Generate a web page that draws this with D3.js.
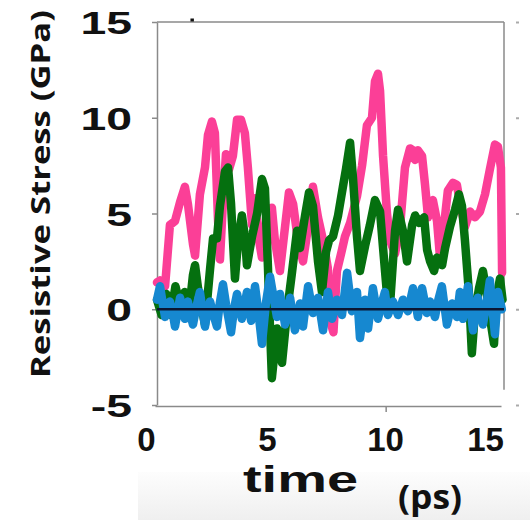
<!DOCTYPE html>
<html>
<head>
<meta charset="utf-8">
<script src="https://cdn.jsdelivr.net/npm/d3@7"></script>
<style>
  body { margin: 0; background: #ffffff; }
</style>
</head>
<body>
<script>
// tick values
var timeTicks = [0, 5, 10, 15];
var stressTicks = [-5, 0, 5, 10, 15];

// [time (ps), stress (GPa)]
var pinkData = [
  [0.0, 1.4], [0.13, 1.5], [0.35, 1.2], [0.56, 4.4], [0.78, 4.6], [1.0, 5.6],
  [1.21, 6.4], [1.34, 5.5], [1.56, 3.4], [1.65, 2.8], [1.86, 6.0], [2.08, 7.4],
  [2.21, 9.1], [2.38, 9.8], [2.51, 9.2], [2.64, 4.8], [2.73, 2.6], [2.86, 5.6],
  [2.99, 8.1], [3.12, 7.3], [3.29, 8.0], [3.47, 9.9], [3.64, 9.9], [3.81, 9.2],
  [3.94, 7.4], [4.12, 4.4], [4.25, 5.8], [4.38, 3.9], [4.55, 2.7], [4.77, 5.2],
  [4.98, 5.3], [5.11, 3.6], [5.33, 2.0], [5.55, 4.3], [5.72, 6.1], [5.90, 5.5],
  [6.11, 3.6], [6.33, 2.5], [6.55, 4.3], [6.76, 6.4], [6.98, 4.8], [7.20, 3.6],
  [7.40, 2.2], [7.55, -0.8], [7.65, -1.2], [7.80, 2.0], [8.0, 3.0], [8.15, 3.8],
  [8.37, 4.5], [8.67, 5.9], [8.89, 7.5], [9.10, 9.6], [9.32, 10.0], [9.45, 11.9],
  [9.58, 12.3], [9.67, 11.4], [9.80, 8.0], [9.97, 5.0], [10.10, 3.6], [10.32, 2.9],
  [10.53, 4.2], [10.75, 7.4], [10.97, 8.4], [11.10, 8.3], [11.19, 7.8], [11.31, 8.3],
  [11.49, 8.0], [11.62, 6.5], [11.75, 4.8], [11.96, 5.7], [12.14, 4.6], [12.27, 2.7],
  [12.40, 3.9], [12.61, 6.2], [12.83, 6.6], [13.0, 6.5], [13.13, 5.6], [13.35, 4.3],
  [13.57, 5.1], [13.78, 4.8], [14.0, 5.1], [14.22, 6.0], [14.43, 7.3], [14.65, 8.6],
  [14.78, 8.5], [14.91, 7.4], [14.96, 1.9]
];

var greenData = [
  [0.0, 0.5], [0.2, -0.3], [0.4, 0.8], [0.6, -0.3], [0.8, 1.2], [1.0, 0.2],
  [1.2, 0.9], [1.4, 0.0], [1.56, 1.8], [1.65, 2.3], [1.78, 1.1], [2.08, -0.8],
  [2.30, 2.1], [2.43, 3.7], [2.60, 3.7], [2.73, 5.4], [2.95, 7.2], [3.08, 7.4],
  [3.21, 5.5], [3.38, 1.6], [3.51, 3.5], [3.68, 4.9], [3.81, 3.8], [3.90, 2.3],
  [4.12, 3.8], [4.34, 5.0], [4.55, 6.8], [4.68, 6.3], [4.81, 2.2], [4.90, -1.0],
  [4.98, -3.6], [5.20, -1.0], [5.42, -2.8], [5.64, -0.1], [5.85, 1.9], [6.07, 4.1],
  [6.20, 3.2], [6.42, 4.9], [6.59, 6.1], [6.76, 5.4], [6.98, 2.5], [7.15, 0.9],
  [7.33, 3.0], [7.46, 3.6], [7.63, 3.8], [7.85, 4.9], [8.06, 6.4], [8.19, 7.3],
  [8.37, 8.7], [8.50, 6.8], [8.67, 3.8], [8.80, 2.0], [9.02, 3.3], [9.23, 4.4],
  [9.45, 5.7], [9.67, 5.1], [9.80, 3.2], [9.97, 0.8], [10.10, 0.2], [10.32, 4.1],
  [10.45, 5.2], [10.66, 4.1], [10.84, 2.5], [11.06, 4.4], [11.19, 4.9], [11.36, 4.5],
  [11.58, 4.8], [11.71, 3.1], [11.84, 2.5], [12.01, 2.0], [12.14, 2.7], [12.36, 2.3],
  [12.49, 3.2], [12.70, 4.3], [12.92, 5.2], [13.09, 6.0], [13.22, 5.4], [13.35, 3.6],
  [13.52, 0.9], [13.65, -2.3], [13.78, -0.2], [13.96, 1.1], [14.13, 2.0], [14.26, 1.1],
  [14.43, -0.4], [14.61, -1.8], [14.70, 0.5], [14.87, 1.6], [14.98, 0.5]
];

var blueData = [
  [0.0, 0.5], [0.13, 1.2], [0.25, 0.3], [0.35, -0.4], [0.56, 0.4], [0.68, -0.2],
  [0.78, -0.9], [1.0, 0.6], [1.1, 0.0], [1.21, -0.5], [1.34, 0.4], [1.45, -0.3],
  [1.56, -0.8], [1.72, 0.2], [1.86, 0.9], [2.08, -0.9], [2.20, 0.0], [2.30, 0.4],
  [2.45, -0.3], [2.60, -0.9], [2.72, 0.3], [2.86, 1.3], [3.0, 0.2], [3.21, -1.2],
  [3.35, 0.1], [3.47, 0.8], [3.68, -0.5], [3.90, 0.9], [4.08, -0.6], [4.25, 1.2],
  [4.40, -0.2], [4.55, -1.8], [4.72, 0.3], [4.90, 1.7], [5.20, -0.4], [5.33, 0.8],
  [5.55, -0.8], [5.77, 0.6], [5.98, -1.1], [6.20, 0.3], [6.33, -0.9], [6.55, 1.2],
  [6.76, -0.2], [6.98, 0.6], [7.20, -1.1], [7.41, 0.9], [7.59, -0.5], [7.80, 0.5],
  [8.02, -0.3], [8.24, 1.9], [8.45, -0.1], [8.67, 0.9], [8.80, -1.5], [9.02, 0.5],
  [9.15, -1.0], [9.36, 1.1], [9.58, -0.5], [9.72, 0.2], [9.88, 0.9], [10.01, -0.3],
  [10.23, 0.4], [10.45, -0.3], [10.66, 0.5], [10.88, -0.1], [11.10, 1.1], [11.31, -0.4],
  [11.49, 1.1], [11.70, -0.2], [11.84, 0.4], [12.05, -0.4], [12.20, 0.5], [12.35, 1.2],
  [12.57, -0.8], [12.79, 0.3], [13.0, -0.4], [13.13, 0.9], [13.26, -0.5], [13.48, 1.2],
  [13.70, -1.1], [13.91, 0.6], [14.13, -0.8], [14.30, 0.4], [14.43, 1.5], [14.65, -1.3],
  [14.78, 0.9], [14.95, 0.0]
];

// size of the SVG
var width = 530;
var height = 520;

var svg = d3.select("body")
            .append("svg")
            .attr("width", width)
            .attr("height", height);

// light grey strip behind the x title
var grad = svg.append("defs").append("linearGradient")
              .attr("id", "fade").attr("x1", 0).attr("y1", 0).attr("x2", 0).attr("y2", 1);
grad.append("stop").attr("offset", "0%").attr("stop-color", "#fdfdfd");
grad.append("stop").attr("offset", "100%").attr("stop-color", "#efefef");
svg.append("rect")
   .attr("x", 138).attr("y", 472)
   .attr("width", width - 138).attr("height", height - 472)
   .attr("fill", "url(#fade)");

// scales
var xScale = d3.scaleLinear().domain([0, 15]).range([157, 503]);
var yScale = d3.scaleLinear().domain([-5, 15]).range([405, 22]);
// where the time labels sit in the picture
var xLabelScale = d3.scaleLinear().domain(timeTicks).range([146, 267, 385, 485]);

var frameColour = "#8a8a8a";

// top and right frame lines
svg.append("line")
   .attr("x1", xScale(0)).attr("x2", xScale(15) + 1)
   .attr("y1", yScale(15)).attr("y2", yScale(15))
   .attr("stroke", frameColour).attr("stroke-width", 1.5);
svg.append("line")
   .attr("x1", xScale(15) + 1).attr("x2", xScale(15) + 1)
   .attr("y1", yScale(15)).attr("y2", yScale(-4.2))
   .attr("stroke", frameColour).attr("stroke-width", 1.5);

// left axis
var yAxis = d3.axisLeft(yScale)
              .tickValues(stressTicks)
              .tickSize(5)
              .tickSizeOuter(0)
              .tickPadding(20)
              .tickFormat(function(d){ return String(d); });
var gy = svg.append("g")
            .attr("transform", "translate(" + xScale(0) + ",0)")
            .call(yAxis);
gy.selectAll("path, line").attr("stroke", frameColour).attr("stroke-width", 1.5);
gy.selectAll("text")
  .attr("font-family", "'Liberation Sans', Arial, sans-serif")
  .attr("font-weight", "bold")
  .attr("font-size", 32)
  .attr("fill", "#111")
  .attr("x", -25 / 1.45)
  .attr("dy", "0.36em")
  .attr("transform", "scale(1.45,1)");

// faint ticks on the right side
var gr = svg.append("g")
            .attr("transform", "translate(516,0)")
            .call(d3.axisRight(yScale).tickValues(stressTicks).tickSize(3).tickFormat(""));
gr.select(".domain").remove();
gr.selectAll("line").attr("stroke", "#aaa").attr("stroke-width", 2);

// bottom axis, one tick at 10
var xAxis = d3.axisBottom(xScale)
              .tickValues([10])
              .tickSize(6)
              .tickSizeOuter(0)
              .tickFormat("");
var gx = svg.append("g")
            .attr("transform", "translate(-2," + (yScale(-5) + 1) + ")")
            .call(xAxis);
gx.selectAll("path, line").attr("stroke", frameColour).attr("stroke-width", 1.5);

// time labels
var gxl = svg.append("g")
             .attr("transform", "translate(0,451)")
             .call(d3.axisBottom(xLabelScale).tickValues(timeTicks).tickSize(0).tickPadding(0)
                     .tickFormat(function(d){ return String(d); }));
gxl.select(".domain").remove();
gxl.selectAll("text")
   .attr("font-family", "'Liberation Sans', Arial, sans-serif")
   .attr("font-weight", "bold")
   .attr("font-size", 33)
   .attr("fill", "#111")
   .attr("dy", 0);

// small mark above the frame
svg.append("line")
   .attr("x1", xScale(1.45)).attr("x2", xScale(1.6))
   .attr("y1", 20).attr("y2", 20)
   .attr("stroke", "#111").attr("stroke-width", 3);

// the three series
var line = d3.line()
             .x(function(d){ return xScale(d[0]); })
             .y(function(d){ return yScale(d[1]); });

var series = [
  { data: pinkData, colour: "#fb3f97", w: 8.5 },
  { data: greenData, colour: "#05700f", w: 8.5 },
  { data: blueData, colour: "#1688d0", w: 8.5 }
];

svg.selectAll(".series")
   .data(series)
   .enter()
   .append("path")
   .attr("class", "series")
   .attr("d", function(d){ return line(d.data); })
   .attr("fill", "none")
   .attr("stroke", function(d){ return d.colour; })
   .attr("stroke-width", function(d){ return d.w; })
   .attr("stroke-linejoin", "round")
   .attr("stroke-linecap", "round");

// zero line
svg.append("line")
   .attr("x1", xScale(0)).attr("x2", xScale(15) + 1)
   .attr("y1", yScale(0)).attr("y2", yScale(0))
   .attr("stroke", "#0b1633").attr("stroke-width", 2.5);

// axis titles
svg.append("text")
   .attr("transform", "translate(50," + 194 + ") rotate(-90)")
   .attr("text-anchor", "middle")
   .attr("font-family", "'Open Sans', sans-serif")
   .attr("font-weight", "bold")
   .attr("font-size", 27)
   .attr("textLength", 368)
   .attr("lengthAdjust", "spacingAndGlyphs")
   .attr("fill", "#111")
   .text("Resistive Stress (GPa)");

svg.append("text")
   .attr("x", 243).attr("y", 492)
   .attr("font-family", "'Liberation Sans', Arial, sans-serif")
   .attr("font-weight", "bold")
   .attr("font-size", 36)
   .attr("textLength", 115)
   .attr("lengthAdjust", "spacingAndGlyphs")
   .attr("fill", "#111")
   .text("time");

svg.append("text")
   .attr("x", 398).attr("y", 509)
   .attr("font-family", "'Open Sans', sans-serif")
   .attr("font-weight", "bold")
   .attr("font-size", 34)
   .attr("textLength", 64)
   .attr("lengthAdjust", "spacingAndGlyphs")
   .attr("fill", "#111")
   .text("(ps)");
</script>
</body>
</html>
